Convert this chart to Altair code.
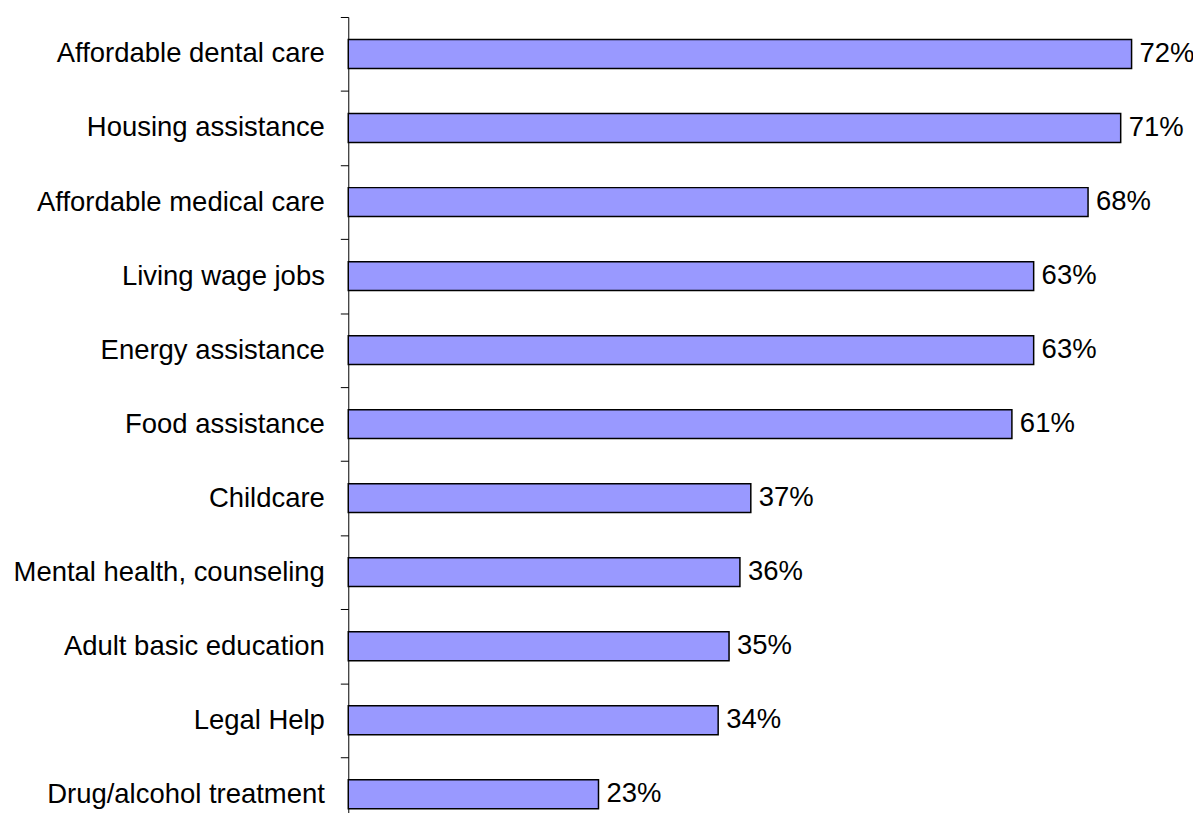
import altair as alt
import pandas as pd

categories = [
    "Affordable dental care",
    "Housing assistance",
    "Affordable medical care",
    "Living wage jobs",
    "Energy assistance",
    "Food assistance",
    "Childcare",
    "Mental health, counseling",
    "Adult basic education",
    "Legal Help",
    "Drug/alcohol treatment",
]
values = [72, 71, 68, 63, 63, 61, 37, 36, 35, 34, 23]
labels = [f"{v}%" for v in values]

df = pd.DataFrame({"category": categories, "value": values, "label": labels})

FONT = "Liberation Sans"
FS = 27.6

y_enc = alt.Y(
    "category:N",
    sort=categories,
    title=None,
    scale=alt.Scale(range=[0, 818.4], paddingInner=0, paddingOuter=0),
    axis=alt.Axis(
        domainColor="#000000",
        domainWidth=1,
        tickColor="#000000",
        tickSize=8,
        tickBand="extent",
        labelFont=FONT,
        labelFontSize=FS,
        labelColor="#000000",
        labelPadding=16,
        labelLimit=400,
        grid=False,
    ),
)
x_enc = alt.X(
    "value:Q",
    title=None,
    scale=alt.Scale(domain=[0, 76], nice=False, zero=True),
    axis=None,
)

bars = alt.Chart(df).mark_bar(
    fill="#9999FF", stroke="#000000", strokeWidth=1.5, height=29
).encode(y=y_enc, x=x_enc)

text = alt.Chart(df).mark_text(
    align="left", baseline="middle", dx=8, font=FONT, fontSize=FS, color="#000000"
).encode(
    y=alt.Y("category:N", sort=categories),
    x=alt.X("value:Q", axis=None),
    text="label:N",
)

chart = (
    alt.layer(bars, text)
    .properties(
        width=831,
        height=798,
        background="#ffffff",
        autosize=alt.AutoSizeParams(type="none"),
        padding={"left": 342, "top": 7, "right": 18, "bottom": 0},
    )
    .configure_view(strokeWidth=0, stroke="transparent")
    .configure_axis(grid=False)
)

chart.save("out.html", embed_options={"renderer": "svg", "actions": False})
